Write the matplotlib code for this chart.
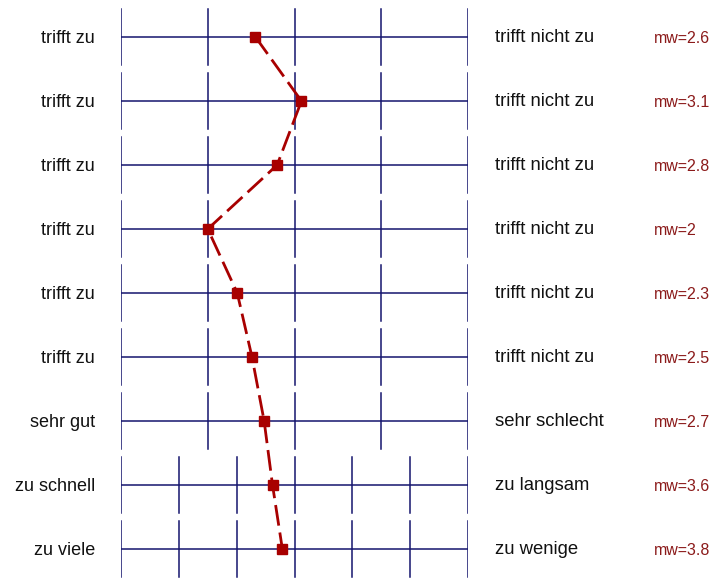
import matplotlib.pyplot as plt

# semantic differential: left pole, right pole, scale points, mean
left_labels = ["trifft zu"] * 6 + ["sehr gut", "zu schnell", "zu viele"]
right_labels = ["trifft nicht zu"] * 6 + ["sehr schlecht", "zu langsam", "zu wenige"]
scale_points = [5, 5, 5, 5, 5, 5, 5, 7, 7]
means = [2.55, 3.08, 2.8, 2.0, 2.34, 2.51, 2.65, 3.62, 3.79]
mw_labels = ["mw=2.6", "mw=3.1", "mw=2.8", "mw=2", "mw=2.3",
             "mw=2.5", "mw=2.7", "mw=3.6", "mw=3.8"]

navy = "#15156e"
red = "#a80000"

plt.rcParams['font.family'] = ['Liberation Sans', 'DejaVu Sans']

fig = plt.figure(figsize=(7.28, 5.78), dpi=100)
ax = fig.add_axes([121 / 728, 0, (468 - 121) / 728, 1])
ax.set_xlim(0, 1)
ax.set_ylim(8.453, -0.578)
ax.axis('off')

rows = range(len(means))
half = 0.4375
xs = []
for r in rows:
    n = scale_points[r]
    ax.plot([0, 1], [r, r], color=navy, lw=1.1)
    for k in range(n):
        ax.plot([k / (n - 1)] * 2, [r - half, r + half], color=navy, lw=1.1)
    xs.append((means[r] - 1) / (n - 1))
    ax.text(-0.075, r + 0.025, left_labels[r], ha='right', va='center', fontsize=13,
            color='#111111', clip_on=False)
    ax.text(1.077, r + 0.01, right_labels[r], ha='left', va='center', fontsize=13.3,
            color='#111111', clip_on=False)
    ax.text(1.535, r + 0.02, mw_labels[r], ha='left', va='center', fontsize=11.5,
            color='#8b1a1a', clip_on=False)

ax.plot(xs, list(rows), color=red, lw=2, dashes=(7.5, 2.5),
        marker='s', markersize=7, markerfacecolor=red, markeredgecolor=red,
        clip_on=False, zorder=5)

fig.savefig("out.png", dpi=100)
